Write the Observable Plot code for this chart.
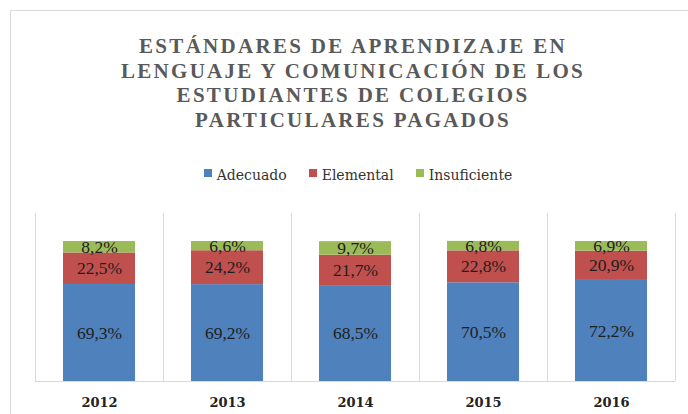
<!DOCTYPE html>
<html>
<head>
<meta charset="utf-8">
<script src="https://cdn.jsdelivr.net/npm/d3@7"></script>
<script src="https://cdn.jsdelivr.net/npm/@observablehq/plot@0.6"></script>
<style>
  html, body { margin: 0; padding: 0; background: #fff; }
  body { width: 688px; height: 414px; position: relative; overflow: hidden; }
  #frame { position: absolute; left: 10px; top: 10px; right: -5px; bottom: -5px;
           border-top: 1px solid #d9d9d9; border-left: 1px solid #d9d9d9; }
  #title { position: absolute; left: 0; width: 706px; top: 34px; text-align: center;
           font-family: "Liberation Serif", serif; font-weight: bold; font-size: 21px;
           line-height: 24.5px; letter-spacing: 2.3px; color: #595959; }
  #legend { position: absolute; left: 0; width: 716px; top: 167px; display: flex;
            justify-content: center; gap: 22px; font-family: "DejaVu Serif", serif;
            font-size: 14px; color: #333; }
  #legend .item { display: flex; align-items: center; }
  #legend .sw { width: 8px; height: 8px; margin-right: 5px; margin-top: -4px; }
  #chart { position: absolute; left: 0; top: 195px; }
</style>
</head>
<body>
<div id="frame"></div>
<div id="title">ESTÁNDARES DE APRENDIZAJE EN<br>LENGUAJE Y COMUNICACIÓN DE LOS<br>ESTUDIANTES DE COLEGIOS<br>PARTICULARES PAGADOS</div>
<div id="legend"></div>
<div id="chart"></div>
<script>
const years = ["2012", "2013", "2014", "2015", "2016"];
const levels = ["Adecuado", "Elemental", "Insuficiente"];
const adecuado = [69.3, 69.2, 68.5, 70.5, 72.2];
const elemental = [22.5, 24.2, 21.7, 22.8, 20.9];
const insuficiente = [8.2, 6.6, 9.7, 6.8, 6.9];
const colors = ["#4f81bd", "#c0504d", "#9bbb59"];

const series = [adecuado, elemental, insuficiente];
const data = [];
years.forEach((y, i) => levels.forEach((l, j) => data.push({year: y, level: l, value: series[j][i]})));

const fmt = v => v.toFixed(1).replace(".", ",") + "%";

// legend
const legend = document.getElementById("legend");
levels.forEach((l, j) => {
  const it = document.createElement("div");
  it.className = "item";
  it.innerHTML = `<span class="sw" style="background:${colors[j]}"></span><span>${l}</span>`;
  legend.appendChild(it);
});

const chart = Plot.plot({
  width: 688,
  height: 219,
  marginTop: 18,
  marginBottom: 33,
  marginLeft: 35,
  marginRight: 13,
  style: {fontFamily: "Liberation Serif, serif", background: "transparent"},
  x: {domain: years, padding: 0, label: null, tickSize: 0, tickPadding: 16},
  y: {domain: [0, 120], axis: null},
  color: {domain: levels, range: colors},
  marks: [
    Plot.ruleX(years, {x: d => d, dx: -64, y1: 0, y2: 120, stroke: "#d9d9d9"}),
    Plot.ruleX([years[years.length - 1]], {x: d => d, dx: 64, y1: 0, y2: 120, stroke: "#d9d9d9"}),
    Plot.barY(data, {x: "year", y: "value", fill: "level", order: levels, insetLeft: 28, insetRight: 28}),
    Plot.ruleY([0], {stroke: "#d9d9d9"}),
    Plot.text(data, Plot.stackY({x: "year", y: "value", z: "level", order: levels,
      text: d => fmt(d.value), fontSize: 17.5, fontFamily: "Liberation Serif, serif", fill: "#1e1e1e"})),
    Plot.axisX({tickSize: 0, tickPadding: 16, fontFamily: "DejaVu Serif, serif", fontWeight: "bold", fontSize: 13, fill: "#222", label: null})
  ]
});
document.getElementById("chart").appendChild(chart);
</script>
</body>
</html>
